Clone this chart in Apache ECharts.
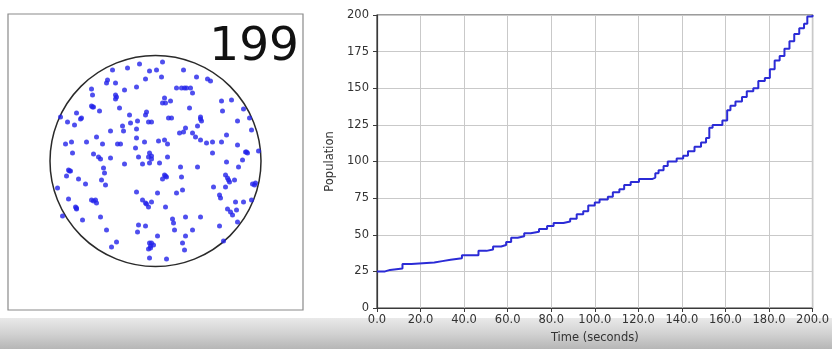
<!DOCTYPE html>
<html>
<head>
<meta charset="utf-8">
<script src="https://cdn.jsdelivr.net/npm/echarts@6/dist/echarts.min.js"></script>
<style>
html,body{margin:0;padding:0;background:#fff;}
#c{width:832px;height:349px;}
</style>
</head>
<body>
<div id="c"></div>
<script>
// ---- Data ----
const countLabel = '199';
const arenaRadius = 105.5;
// particle positions (arena centre = 0,0)
const particles = [
[7,99],[-16,97],[-28,93],[-43,91],[-6,90],[1,91],[28,91],[6,84],[-10,82],[-48,81],[-49,78],[41,84],[52,82],[55,80],
[-64,72],[-63,66],[-40,78],[-31,71],[-19,74],[21,73],[26,73],[31,73],[35,73],[37,68],[-40,66],[-40,62],[9,63],[10,58],[15,60],[66,60],[76,61],[-64,55],[-62,54],[-56,50],[-36,53],[34,53],[7,58],
[-95,44],[-79,48],[-74,43],[-75,42],[-88,39],[-81,36],[-26,46],[-33,35],[-25,38],[-18,40],[-9,49],[-10,46],[-7,39],[-4,39],[13,43],[16,43],[45,44],[46,40],[42,35],[30,33],[28,29],[24,28],[37,28],[40,24],[67,50],[82,40],[88,52],[94,43],[96,31],
[-45,30],[-32,30],[-19,32],[-90,17],[-84,19],[-69,19],[-59,24],[-53,17],[-38,17],[-35,17],[-19,23],[-20,13],[-11,19],[3,20],[9,21],[12,17],[45,21],[51,18],[57,19],[57,8],[66,19],[82,16],[90,9],[92,8],[71,26],[-83,8],[-62,7],[-57,4],[-55,2],[-45,3],[-17,4],[-6,8],[-4,5],[-4,2],[-6,-2],[12,4],[4,-2],[-13,-3],[-31,-3],
[-52,-7],[-51,-12],[25,-6],[42,-6],[71,-1],[83,-6],[70,-14],[72,-17],[74,-21],[79,-19],[-87,-9],[-85,-10],[-89,-15],[-77,-18],[-70,-23],[-54,-19],[-50,-24],[9,-14],[11,-16],[26,-16],[7,-18],[103,10],[100,-22],[99,-24],[87,1],[70,-26],
[-98,-27],[-87,-38],[-64,-39],[-60,-39],[-59,-42],[-19,-31],[2,-32],[21,-32],[27,-29],[58,-26],[64,-34],[65,-37],[80,-41],[88,-41],[96,-39],[-80,-46],[-79,-48],[-73,-59],[-55,-56],[-93,-55],[-13,-39],[-10,-42],[-7,-46],[-4,-41],[10,-46],[45,-56],[72,-48],[75,-51],[77,-54],[82,-61],[81,-49],[17,-58],[18,-62],[30,-56],
[-49,-69],[-18,-71],[-17,-64],[-10,-65],[2,-75],[19,-69],[37,-69],[30,-75],[64,-65],[-39,-81],[-44,-86],[-6,-82],[-4,-82],[-2,-84],[-5,-87],[-7,-88],[27,-82],[29,-89],[68,-80],[-6,-97],[11,-98],
[29,73],[-5,-85],[73,-19],[-62,-40],[-9,-43],[-86,-10],[-63,54],[-7,4],[-79,-47],[45,42],[97,-23],[10,-15],[-39,64],[91,9]
];
// population over time (level starts)
const timeSec = [0,3.7,6,11.7,15.8,26.3,30,33.8,39,46.6,50.3,53.3,57,59.3,61.6,64.6,67.6,70.6,74.4,78.1,81.1,85.6,88.7,91.7,94.7,97,100,102.2,106,108.3,111.3,113.5,116.5,120.3,126.3,127.8,129.3,131.6,133.5,137.6,140.6,142.8,145.8,148.8,151.1,152.6,154.1,158.6,160.8,162.3,164.6,167.6,169.8,172.8,175.1,178.1,180.4,182.6,184.9,187.1,189.4,191.6,193.9,196.1,197.6,200];
const population = [25,26,27,30,31,32,33,34,36,39,40,42,43,45,48,49,51,52,54,56,58,59,61,64,66,70,72,74,76,79,81,84,86,88,89,92,94,97,100,102,104,107,110,113,116,123,125,128,135,138,141,144,148,150,155,157,163,169,172,177,182,187,191,194,199,200];
const xTicks = {min:0, max:200, interval:20};
const yTicks = {min:0, max:200, interval:25};

// ---- Chart ----
const chart = echarts.init(document.getElementById('c'), null, {renderer:'canvas'});
const FONT = 'DejaVu Sans';
const lineData = timeSec.map((t,i)=>[t, population[i]]);

chart.setOption({
  animation:false,
  backgroundColor:'#fff',
  textStyle:{fontFamily:FONT},
  grid:[
    {left:8, top:14, width:295, height:296, show:true, borderColor:'#8a8a8a', borderWidth:1.2, backgroundColor:'transparent'},
    {left:377, right:12, top:15, bottom:39, show:true, borderColor:'#3a3a3a', borderWidth:1.2, backgroundColor:'transparent'}
  ],
  xAxis:[
    {gridIndex:0, type:'value', min:-147.5, max:147.5, show:false},
    {gridIndex:1, type:'value', min:xTicks.min, max:xTicks.max, interval:xTicks.interval,
     name:'Time (seconds)', nameLocation:'middle', nameGap:24,
     nameTextStyle:{fontFamily:FONT, fontSize:11.5, color:'#333'},
     axisLine:{show:true, lineStyle:{color:'#3a3a3a', width:1.2}},
     axisTick:{show:true, length:4, lineStyle:{color:'#3a3a3a'}},
     axisLabel:{fontFamily:FONT, fontSize:11.5, color:'#333', margin:6, formatter:v=>v.toFixed(1)},
     splitLine:{show:true, lineStyle:{color:'#c9c9c9', width:1}}}
  ],
  yAxis:[
    {gridIndex:0, type:'value', min:-149, max:147, show:false},
    {gridIndex:1, type:'value', min:yTicks.min, max:yTicks.max, interval:yTicks.interval,
     name:'Population', nameLocation:'middle', nameGap:41,
     nameTextStyle:{fontFamily:FONT, fontSize:11.5, color:'#333'},
     axisLine:{show:true, lineStyle:{color:'#3a3a3a', width:1.2}},
     axisTick:{show:true, length:4, lineStyle:{color:'#3a3a3a'}},
     axisLabel:{fontFamily:FONT, fontSize:11.5, color:'#333', margin:8},
     splitLine:{show:true, lineStyle:{color:'#c9c9c9', width:1}}}
  ],
  graphic:[
    {type:'rect', z:-10, shape:{x:0, y:318, width:832, height:31},
     style:{fill:new echarts.graphic.LinearGradient(0,0,0,1,[
       {offset:0, color:'#e9e9e9'},{offset:0.5,color:'#d2d2d2'},{offset:1, color:'#b6b6b6'}])}},
    {type:'text', z:10, x:299, y:48,
     style:{text:countLabel, fontFamily:FONT, fontSize:47, fill:'#111', textAlign:'right', textVerticalAlign:'middle'}}
  ],
  series:[
    {type:'custom', xAxisIndex:0, yAxisIndex:0, data:[[0,0,arenaRadius]], silent:true, z:1,
     renderItem:(params, api)=>{
       const c = api.coord([api.value(0), api.value(1)]);
       const r = api.size([api.value(2), 0])[0];
       return {type:'circle', shape:{cx:c[0], cy:c[1], r:r},
               style:{fill:'none', stroke:'#2a2a2a', lineWidth:1.5}};
     }},
    {type:'scatter', xAxisIndex:0, yAxisIndex:0, data:particles, symbolSize:5, z:3,
     itemStyle:{color:'#2323ea'}},
    {type:'line', xAxisIndex:1, yAxisIndex:1, data:lineData, step:'end', showSymbol:false,
     lineStyle:{color:'#2b2bd6', width:2}, z:3}
  ]
});
</script>
</body>
</html>
